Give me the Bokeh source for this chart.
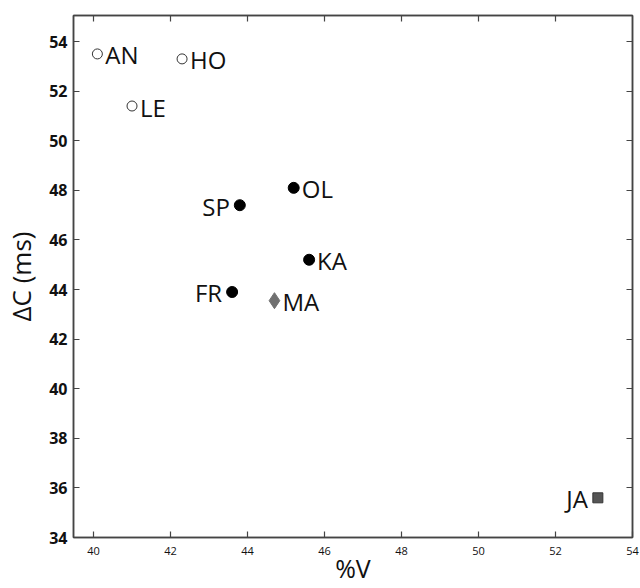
from bokeh.plotting import figure
from bokeh.models import LinearAxis, FixedTicker, Range1d
from bokeh.core.properties import value
from bokeh.embed import file_html
from bokeh.resources import INLINE

# Data
names_open = ["AN", "HO", "LE"]
v_open = [40.1, 42.3, 41.0]
dc_open = [53.5, 53.3, 51.4]

names_filled = ["OL", "SP", "KA", "FR"]
v_filled = [45.2, 43.8, 45.6, 43.6]
dc_filled = [48.1, 47.4, 45.2, 43.9]

names_diamond = ["MA"]
v_diamond = [44.7]
dc_diamond = [43.55]

names_square = ["JA"]
v_square = [53.1]
dc_square = [35.6]

x_ticks = [40, 42, 44, 46, 48, 50, 52, 54]
y_ticks = [34, 36, 38, 40, 42, 44, 46, 48, 50, 52, 54]

x_title = "%V"
y_title = "ΔC (ms)"

label_right = ["AN", "HO", "LE", "OL", "KA", "MA"]
label_left = ["SP", "FR", "JA"]

all_names = names_open + names_filled + names_diamond + names_square
all_v = v_open + v_filled + v_diamond + v_square
all_dc = dc_open + dc_filled + dc_diamond + dc_square

FONT = "Open Sans"
X0, X1 = 39.48, 54
Y0, Y1 = 34, 55.05

p = figure(width=640, height=588, output_backend="svg", toolbar_location=None,
           x_range=Range1d(X0, X1), y_range=Range1d(Y0, Y1),
           x_axis_location=None, y_axis_location=None)
p.min_border_left = 73
p.min_border_right = 8
p.min_border_top = 15
p.min_border_bottom = 51
p.xgrid.visible = False
p.ygrid.visible = False
p.outline_line_color = "#444444"
p.outline_line_width = 1.5
p.background_fill_color = "white"
p.border_fill_color = "white"

def style_axis(ax, show_labels, font_size):
    ax.axis_line_color = "#444444"
    ax.axis_line_width = 1.5
    ax.major_tick_in = 6
    ax.major_tick_out = 0
    ax.major_tick_line_color = "#444444"
    ax.major_tick_line_width = 1.2
    ax.minor_tick_line_color = None
    ax.major_label_text_font = FONT
    ax.major_label_text_color = "#111111" if show_labels else None
    ax.major_label_text_font_size = font_size if show_labels else "0px"
    ax.major_label_standoff = 6 if show_labels else 0

xb = LinearAxis(ticker=FixedTicker(ticks=x_ticks), axis_label=x_title)
style_axis(xb, True, "11px")
xb.major_label_standoff = 9
xb.axis_label_text_font = FONT
xb.axis_label_text_font_size = "25px"
xb.axis_label_text_font_style = "normal"
xb.axis_label_text_color = "#111111"
xb.axis_label_standoff = -7
p.add_layout(xb, "below")

yl = LinearAxis(ticker=FixedTicker(ticks=y_ticks), axis_label=y_title)
style_axis(yl, True, "16px")
yl.major_label_text_font_style = "bold"
yl.axis_label_text_font = FONT
yl.axis_label_text_font_size = "26px"
yl.axis_label_text_font_style = "normal"
yl.axis_label_text_color = "#111111"
yl.axis_label_standoff = 7
p.add_layout(yl, "left")

xt = LinearAxis(ticker=FixedTicker(ticks=x_ticks[:-1]))
style_axis(xt, False, "0px")
p.add_layout(xt, "above")

yr = LinearAxis(ticker=FixedTicker(ticks=y_ticks))
style_axis(yr, False, "0px")
p.add_layout(yr, "right")

# Markers
p.scatter(v_open, dc_open, marker="circle", size=10, fill_color="white",
          line_color="#333333", line_width=1)
p.scatter(v_filled, dc_filled, marker="circle", size=11, fill_color="black",
          line_color="black")
p.scatter(v_diamond, dc_diamond, marker="diamond", size=16, fill_color="#707070",
          line_color="#707070")
p.scatter(v_square, dc_square, marker="square", size=10, fill_color="#555555",
          line_color="#333333", line_width=1)

# Labels
rx = [v for n, v in zip(all_names, all_v) if n in label_right]
ry = [d for n, d in zip(all_names, all_dc) if n in label_right]
rn = [n for n in all_names if n in label_right]
lx = [v for n, v in zip(all_names, all_v) if n in label_left]
ly = [d for n, d in zip(all_names, all_dc) if n in label_left]
ln = [n for n in all_names if n in label_left]

p.text(x=rx, y=ry, text=rn, x_offset=8, y_offset=1, text_align="left",
       text_baseline="middle", text_font=value(FONT), text_font_size="24px",
       text_color="#111111")
p.text(x=lx, y=ly, text=ln, x_offset=-10, y_offset=1, text_align="right",
       text_baseline="middle", text_font=value(FONT), text_font_size="24px",
       text_color="#111111")

open("out.html", "w").write(file_html(p, INLINE))
